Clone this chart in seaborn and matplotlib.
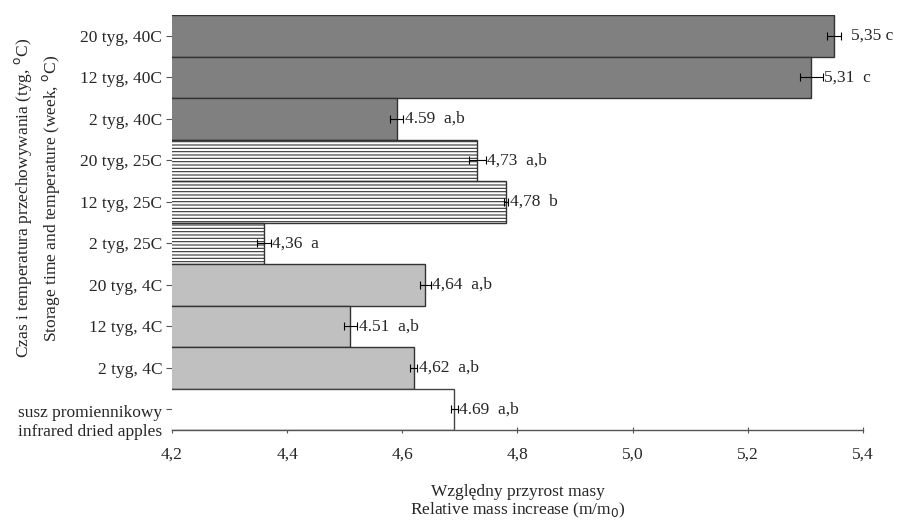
import matplotlib

matplotlib.use("Agg")
import matplotlib.pyplot as plt
import matplotlib.transforms as mtransforms
import pandas as pd
import seaborn as sns

# --- data ---
categories = [
    "20 tyg, 40C",
    "12 tyg, 40C",
    "2 tyg, 40C",
    "20 tyg, 25C",
    "12 tyg, 25C",
    "2 tyg, 25C",
    "20 tyg, 4C",
    "12 tyg, 4C",
    "2 tyg, 4C",
    "susz promiennikowy\ninfrared dried apples",
]
values = [5.35, 5.31, 4.59, 4.73, 4.78, 4.36, 4.64, 4.51, 4.62, 4.69]
errors = [0.012, 0.02, 0.012, 0.015, 0.004, 0.012, 0.01, 0.012, 0.006, 0.006]
value_labels = [
    "5,35 c", "5,31  c", "4.59  a,b", "4,73  a,b", "4,78  b",
    "4,36  a", "4,64  a,b", "4.51  a,b", "4,62  a,b", "4.69  a,b",
]
groups = ["40C", "40C", "40C", "25C", "25C", "25C", "4C", "4C", "4C", "ref"]
xticks = [4.2, 4.4, 4.6, 4.8, 5.0, 5.2, 5.4]
xtick_labels = ["4,2", "4,4", "4,6", "4,8", "5,0", "5,2", "5,4"]

fill = {"40C": "#808080", "25C": "#ffffff", "4C": "#c0c0c0", "ref": "#ffffff"}
hatch = {"40C": None, "25C": "-----", "4C": None, "ref": None}

FS = 12.5

sns.set_style("white")
plt.rcParams["font.family"] = ["Liberation Serif", "DejaVu Serif"]
plt.rcParams["hatch.linewidth"] = 0.8
plt.rcParams["hatch.color"] = "#555555"

df = pd.DataFrame({"cat": categories, "val": values, "grp": groups})

fig = plt.figure(figsize=(8.98, 5.2), dpi=100, facecolor="white")
ax = fig.add_axes([0.1915, 0.173, 0.7695, 0.798])

sns.barplot(
    data=df, x="val", y="cat", hue="cat", orient="h",
    palette=[fill[g] for g in groups], width=1.0, legend=False, ax=ax,
    edgecolor="#333333", linewidth=1.0, saturation=1,
)
for p, g in zip(ax.patches, groups):
    if hatch[g]:
        p.set_hatch(hatch[g])
    if g == "ref":
        p.set_edgecolor("#444444")

ax.errorbar(values, range(len(values)), xerr=errors, fmt="none",
            ecolor="black", elinewidth=0.8, capsize=3, capthick=0.8)
for i, (v, e, lab) in enumerate(zip(values, errors, value_labels)):
    ax.annotate(lab, (v + e, i), xytext=(7 if i == 0 else 1, 0),
                textcoords="offset points", va="center", ha="left", fontsize=FS)

ax.set_xlim(4.2, 5.4)
ax.set_ylim(len(values) - 0.5, -0.5)
ax.set_xticks(xticks)
ax.set_xticklabels(xtick_labels, fontsize=FS)
ax.tick_params(axis="y", labelsize=FS, length=4, left=True, pad=3, color="#555555")
ax.tick_params(axis="x", length=4, bottom=True, direction="inout", pad=10, color="#555555")

# the two-line reference label sits a little lower than its bar
lab = ax.get_yticklabels()[-1]
lab.set_transform(lab.get_transform() + mtransforms.ScaledTranslation(0, -0.1, fig.dpi_scale_trans))

for s in ["top", "right", "left"]:
    ax.spines[s].set_visible(False)
ax.spines["bottom"].set_color("#555555")
ax.spines["bottom"].set_linewidth(1.0)

ax.set_ylabel("Czas i temperatura przechowywania (tyg, $^{\\rm o}$C)\n"
              "Storage time and temperature (week, $^{\\rm o}$C)",
              fontsize=FS, linespacing=1.4)
ax.yaxis.set_label_coords(-0.159, 0.559)
ax.set_xlabel("Względny przyrost masy\nRelative mass increase (m/m$_{\\rm 0}$)",
              fontsize=FS, linespacing=1.1, labelpad=15)

fig.savefig("out.png", dpi=100, facecolor="white")
